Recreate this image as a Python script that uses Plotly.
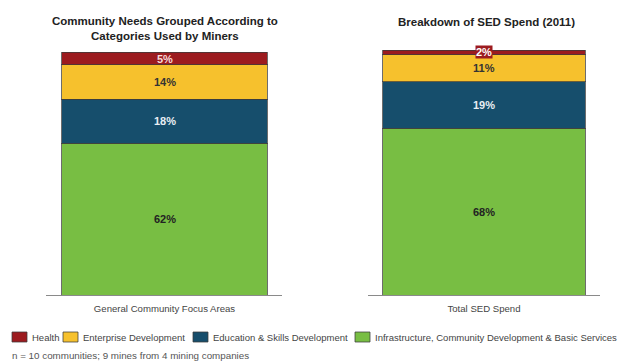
import plotly.graph_objects as go
import numpy as np

# Stacked shares (%) for the two panels, bottom segment first
categories = ["Infrastructure, Community Development & Basic Services",
              "Education & Skills Development",
              "Enterprise Development",
              "Health"]
needs_values = [62, 18, 14, 5]
spend_values = [68, 19, 11, 2]
panel_labels = ["General Community Focus Areas", "Total SED Spend"]
panel_titles = ["Community Needs Grouped According to<br>Categories Used by Miners",
                "Breakdown of SED Spend (2011)"]
footnote = "n = 10 communities; 9 mines from 4 mining companies"

colors = ["#78BE43", "#164E6C", "#F6C12D", "#9C1B1F"]
label_colors = ["#222222", "#E8EEF4", "#333333", "#F6DADA"]
edge = "rgba(60,60,60,0.75)"

FONT = "Liberation Sans, Arial, sans-serif"
W, H = 623, 363

fig = go.Figure()

for i, (name, col) in enumerate(zip(categories, colors)):
    for vals, cat, xa, ya in [(needs_values, panel_labels[0], "x", "y"),
                              (spend_values, panel_labels[1], "x2", "y2")]:
        fig.add_trace(go.Bar(
            x=[cat], y=[vals[i]], name=name,
            marker=dict(color=col, line=dict(color=edge, width=1)),
            width=1, xaxis=xa, yaxis=ya, showlegend=False,
            hoverinfo="name+y",
        ))

# Value labels at the middle of each stacked segment
annotations = []
for vals, xref, yref, cat in [(needs_values, "x", "y", panel_labels[0]),
                              (spend_values, "x2", "y2", panel_labels[1])]:
    tops = np.cumsum(vals)
    for i, v in enumerate(vals):
        mid = tops[i] - v / 2
        small = v < 4
        annotations.append(dict(
            x=cat, y=mid, xref=xref, yref=yref, text=f"<b>{v}%</b>",
            showarrow=False,
            font=dict(family=FONT, size=11, color="white" if small else label_colors[i]),
            bgcolor=colors[i] if small else None,
            borderpad=0,
        ))

# Panel titles
annotations.append(dict(x=165 / W, y=1 - 28 / H, xref="paper", yref="paper",
                        xanchor="center", yanchor="middle",
                        text=f"<b>{panel_titles[0]}</b>", showarrow=False,
                        font=dict(family=FONT, size=11.5, color="#222222"), align="center"))
annotations.append(dict(x=486 / W, y=1 - 22 / H, xref="paper", yref="paper",
                        xanchor="center", yanchor="middle",
                        text=f"<b>{panel_titles[1]}</b>", showarrow=False,
                        font=dict(family=FONT, size=11.5, color="#222222"), align="center"))

# Legend row: swatch + label per category, listed top segment first
legend_x = [12, 63, 193, 355]
legend_y = 337
shapes = []
for k, idx in enumerate(reversed(range(len(categories)))):
    x0 = legend_x[k]
    shapes.append(dict(type="rect", xref="paper", yref="paper",
                       x0=x0 / W, x1=(x0 + 15) / W,
                       y0=1 - (legend_y + 5) / H, y1=1 - (legend_y - 5) / H,
                       fillcolor=colors[idx], line=dict(color=edge, width=1)))
    annotations.append(dict(x=(x0 + 18) / W, y=1 - legend_y / H, xref="paper", yref="paper",
                            xanchor="left", yanchor="middle", text=categories[idx],
                            showarrow=False,
                            font=dict(family=FONT, size=9.5, color="#444444")))

# Footnote
annotations.append(dict(x=10 / W, y=1 - 355 / H, xref="paper", yref="paper",
                        xanchor="left", yanchor="middle", text=footnote,
                        showarrow=False, font=dict(family=FONT, size=9.8, color="#555555")))

axis_common = dict(showline=True, linecolor="#8A8A8A", linewidth=1, ticks="",
                   showgrid=False, zeroline=False, type="category",
                   ticklabelstandoff=4,
                   tickfont=dict(family=FONT, size=9.6, color="#444444"))
yaxis_common = dict(range=[0, 100], visible=False, showgrid=False, zeroline=False,
                    domain=[68 / H, 313 / H])

fig.update_layout(
    width=W, height=H,
    margin=dict(l=0, r=0, t=0, b=0),
    paper_bgcolor="white", plot_bgcolor="white",
    barmode="stack",
    xaxis=dict(domain=[46 / W, 282 / W], range=[-0.578, 0.573], anchor="y", **axis_common),
    xaxis2=dict(domain=[368 / W, 600 / W], range=[-0.574, 0.574], anchor="y2", **axis_common),
    yaxis=dict(anchor="x", **yaxis_common),
    yaxis2=dict(anchor="x2", **yaxis_common),
    annotations=annotations,
    shapes=shapes,
    showlegend=False,
)

fig.write_html("out.html")
